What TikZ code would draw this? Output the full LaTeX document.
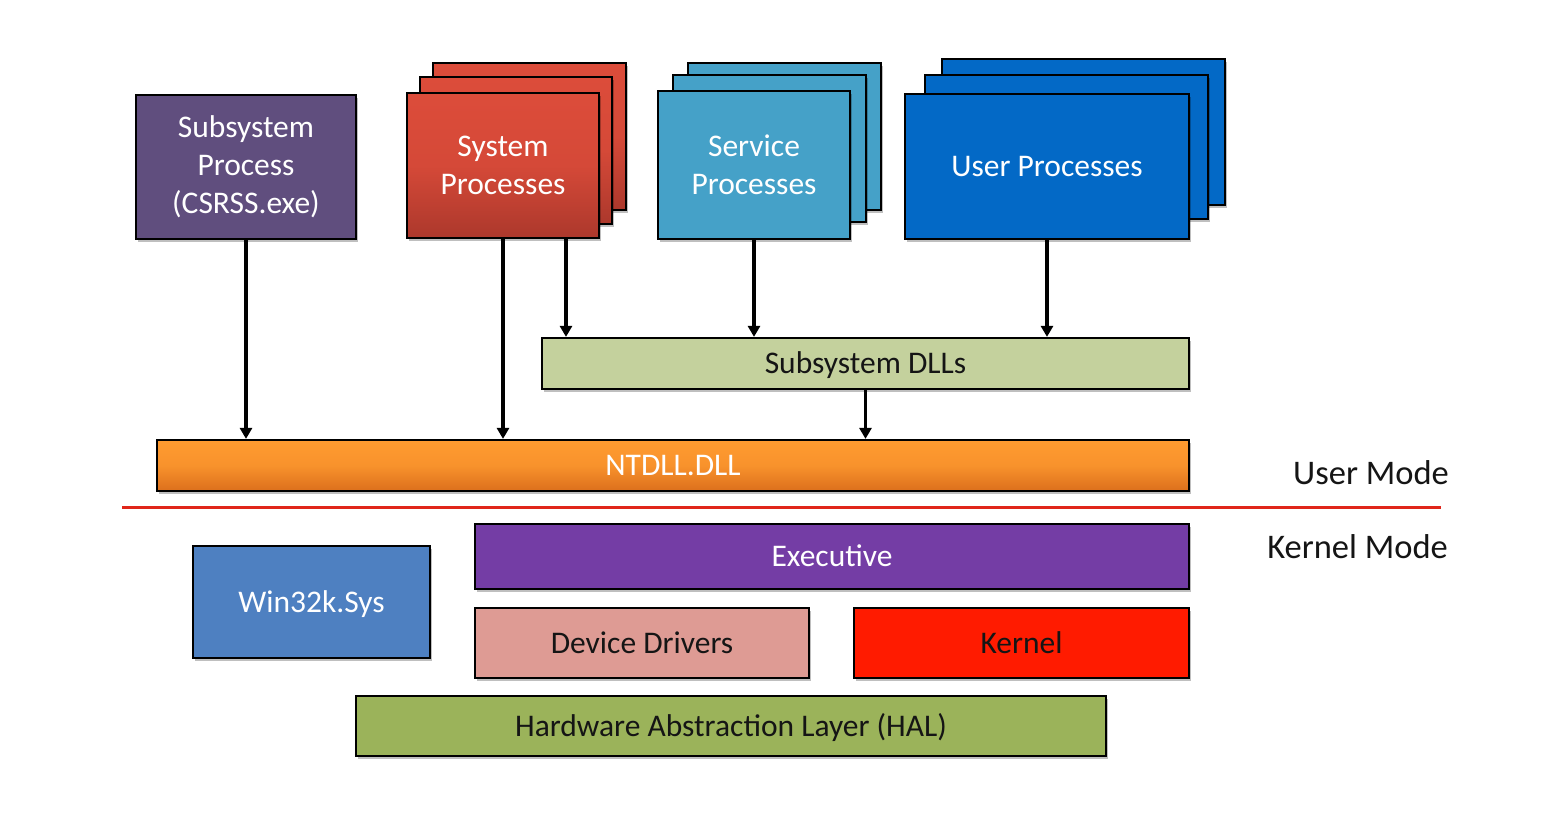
\documentclass[tikz,border=0pt]{standalone}
\usepackage{fontspec}
\setmainfont{Carlito}
\usetikzlibrary{arrows.meta,shadows,calc}
\definecolor{cpurp}{HTML}{604E7E}
\definecolor{csysT}{HTML}{DC4C3A}
\definecolor{csysB}{HTML}{AC382C}
\definecolor{csvc}{HTML}{45A1C8}
\definecolor{cusr}{HTML}{0369C6}
\definecolor{cdll}{HTML}{C4D19D}
\definecolor{cntT}{HTML}{FF9B30}
\definecolor{cntB}{HTML}{DC6F1C}
\definecolor{cexec}{HTML}{743DA5}
\definecolor{cwin}{HTML}{4E80C1}
\definecolor{cdd}{HTML}{DE9B94}
\definecolor{ckern}{HTML}{FF1B00}
\definecolor{chal}{HTML}{9BB35A}
\definecolor{cline}{HTML}{E0261A}
\definecolor{ctext}{HTML}{151515}
\tikzset{
  box/.style={draw=black, line width=2.2pt, inner sep=0pt,
    font=\fontsize{31.5}{38}\selectfont,
    drop shadow={shadow xshift=2pt, shadow yshift=-3pt, opacity=0.25, fill=black}},
  multi/.style={align=center},
  oneline/.style={text height=20.3pt, text depth=0pt},
  wtext/.style={text=white},
  dtext/.style={text=ctext},
  sysfill/.style={top color=csysT, bottom color=csysB, middle color=csysT!85!csysB},
  ntfill/.style={top color=cntT, bottom color=cntB, middle color=cntT!80!cntB},
  arr/.style={line width=3.3pt, -{Triangle[width=12pt,length=11pt]}},
  modelabel/.style={anchor=east, inner sep=0pt, text=ctext, text height=22.2pt, text depth=0pt,
    font=\fontsize{34.5}{40}\selectfont}
}
\begin{document}
\begin{tikzpicture}[x=1pt,y=-1pt]
\useasboundingbox[fill=white] (0,0) rectangle (1550,819);
% Subsystem process
\node[box, multi, wtext, fill=cpurp, minimum width=220pt, minimum height=144pt] (sp) at (246,167) {Subsystem\\Process\\(CSRSS.exe)};
% System processes stack
\node[box, sysfill, minimum width=193pt, minimum height=147pt] (sysb) at (529.5,136.5) {};
\node[box, sysfill, minimum width=192pt, minimum height=147pt] (sysm) at (516,150.5) {};
\node[box, multi, wtext, sysfill, minimum width=192pt, minimum height=145pt] (sysf) at (503,165.5) {System\\Processes};
% Service processes stack
\node[box, fill=csvc, minimum width=193pt, minimum height=147pt] (svcb) at (784.5,136.5) {};
\node[box, fill=csvc, minimum width=193pt, minimum height=147pt] (svcm) at (769.5,148.5) {};
\node[box, multi, wtext, fill=csvc, minimum width=192pt, minimum height=148pt] (svcf) at (754,165) {Service\\Processes};
% User processes stack
\node[box, fill=cusr, minimum width=283pt, minimum height=146pt] (usrb) at (1083.5,132) {};
\node[box, fill=cusr, minimum width=283pt, minimum height=144pt] (usrm) at (1066.5,147) {};
\node[box, oneline, wtext, fill=cusr, minimum width=284pt, minimum height=145pt] (usrf) at (1047,166.5) {User Processes};
% Subsystem DLLs
\node[box, oneline, dtext, fill=cdll, minimum width=647pt, minimum height=51pt] (dlls) at (865.5,363.5) {Subsystem DLLs};
% NTDLL
\node[box, oneline, wtext, ntfill, minimum width=1032pt, minimum height=51pt] (ntdll) at (673,465.5) {NTDLL.DLL};
% divider
\coordinate (divL) at (122,507);
\coordinate (divR) at (1441,507);
\draw[cline, line width=3pt] (divL) -- (divR);
\node[modelabel] (um) at (1449,473) {User Mode};
\node[modelabel] (km) at (1448,547) {Kernel Mode};
% Kernel side
\node[box, oneline, wtext, fill=cexec, minimum width=714pt, minimum height=65pt] (exec) at (832,556.5) {Executive};
\node[box, oneline, wtext, fill=cwin, minimum width=237pt, minimum height=112pt] (win) at (311.5,602) {Win32k.Sys};
\node[box, oneline, dtext, fill=cdd, minimum width=334pt, minimum height=70pt] (dd) at (642,643) {Device Drivers};
\node[box, oneline, dtext, fill=ckern, minimum width=335pt, minimum height=70pt] (kern) at (1021.5,643) {Kernel};
\node[box, oneline, dtext, fill=chal, minimum width=750pt, minimum height=60pt] (hal) at (731,726) {Hardware Abstraction Layer (HAL)};
% arrows
\draw[arr] (sp.south) -- (sp.south |- ntdll.north);
\draw[arr] (sysf.south) -- (sysf.south |- ntdll.north);
\draw[arr] ($(sysf.south)+(63,0)$) -- ($(sysf.south |- dlls.north)+(63,0)$);
\draw[arr] (svcf.south) -- (svcf.south |- dlls.north);
\draw[arr] (usrf.south) -- (usrf.south |- dlls.north);
\draw[arr] (dlls.south) -- (dlls.south |- ntdll.north);
\end{tikzpicture}
\end{document}
